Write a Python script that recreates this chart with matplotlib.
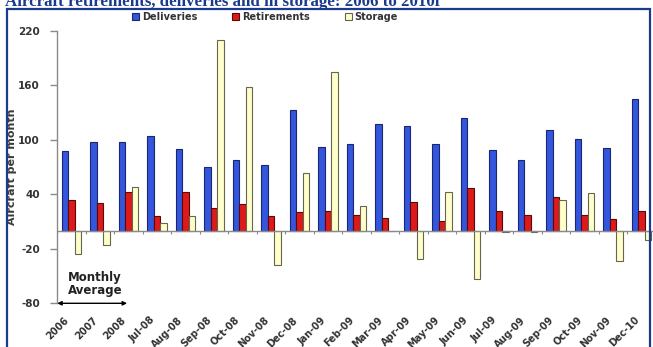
import matplotlib
matplotlib.use("Agg")
import matplotlib.pyplot as plt
import numpy as np
from matplotlib.patches import Rectangle, Patch
from matplotlib.transforms import ScaledTranslation

categories = ['2006', '2007', '2008', 'Jul-08', 'Aug-08', 'Sep-08', 'Oct-08',
              'Nov-08', 'Dec-08', 'Jan-09', 'Feb-09', 'Mar-09', 'Apr-09',
              'May-09', 'Jun-09', 'Jul-09', 'Aug-09', 'Sep-09', 'Oct-09',
              'Nov-09', 'Dec-10']
deliveries = [88, 98, 98, 104, 90, 70, 78, 72, 133, 92, 95, 117, 115, 95,
              124, 89, 78, 111, 101, 91, 145]
retirements = [34, 30, 43, 16, 43, 25, 29, 16, 20, 22, 17, 14, 31, 11,
               47, 22, 17, 37, 17, 13, 22]
storage = [-26, -16, 48, 8, 16, 210, 158, -38, 63, 174, 27, 0, -31, 42,
           -53, -2, -1, 34, 41, -33, -10]
yticks = [-80, -20, 40, 100, 160, 220]

W, H = 653, 347
fig = plt.figure(figsize=(W / 100, H / 100), dpi=100)
fig.patch.set_facecolor('white')

# plot area in pixel terms
left, right, top, bottom = 57.25, 655.75, 30.7, 303.3
ax = fig.add_axes([left / W, (H - bottom) / H, (right - left) / W, (bottom - top) / H])

x = np.arange(len(categories))
w = 0.228
blue, red, cream = '#3356dc', '#dc1a1a', '#ffffcc'
ax.bar(x - w, deliveries, w, color=blue, edgecolor='#1c2670', linewidth=0.8, zorder=2)
ax.bar(x, retirements, w, color=red, edgecolor='#5c0808', linewidth=0.8, zorder=2)
ax.bar(x + w, storage, w, color=cream, edgecolor='#66664d', linewidth=0.8, zorder=2)

ax.set_xlim(-0.5, len(categories) - 0.5)
ax.set_ylim(-80, 220)

# zero line with category separators
ax.axhline(0, color='#8a8a8a', linewidth=1, zorder=3)
ax.vlines(np.arange(len(categories) + 1) - 0.5, -3.5, 0, color='#8a8a8a',
          linewidth=0.8, zorder=3)

for s in ['top', 'right', 'bottom']:
    ax.spines[s].set_visible(False)
ax.spines['left'].set_color('#8a8a8a')
ax.spines['left'].set_linewidth(1)

ax.set_yticks(yticks)
ax.set_yticklabels([str(v) for v in yticks])
ax.tick_params(axis='y', length=5, width=1, color='#8a8a8a', pad=7.5,
               labelsize=7.5, labelcolor='#333333')
for lab in ax.get_yticklabels():
    lab.set_fontweight('bold')

ax.set_xticks(x)
ax.set_xticklabels(categories, rotation=45, ha='right', va='center',
                   rotation_mode='anchor', fontsize=7, fontweight='bold',
                   color='#333333')
ax.tick_params(axis='x', length=0, pad=11)
shift = ScaledTranslation(-4 / 100, 0, fig.dpi_scale_trans)
for lab in ax.get_xticklabels():
    lab.set_transform(lab.get_transform() + shift)

ax.set_ylabel('Aircraft per month', fontsize=8, fontweight='bold', color='#3a3a3a')
ax.yaxis.set_label_coords((17 - left) / (right - left), 0.5)

# monthly-average bracket under the first three categories
ax.annotate('', xy=(-0.5, -80), xytext=(1.95, -80), annotation_clip=False,
            arrowprops=dict(arrowstyle='<|-|>', color='black', lw=1,
                            mutation_scale=6, shrinkA=0, shrinkB=0))
ax.text(0.82, -59, 'Monthly\nAverage', ha='center', va='center',
        multialignment='center', fontsize=8.5, fontweight='bold',
        color='#222222', linespacing=1.0)

handles = [Patch(facecolor=blue, edgecolor='#1c2670', linewidth=0.8, label='Deliveries'),
           Patch(facecolor=red, edgecolor='#5c0808', linewidth=0.8, label='Retirements'),
           Patch(facecolor=cream, edgecolor='#66664d', linewidth=0.8, label='Storage')]
fig.legend(handles=handles, loc='center', bbox_to_anchor=(265 / W, 1 - 17 / H),
           ncol=3, frameon=False, handlelength=0.7, handleheight=0.7,
           handletextpad=0.3, columnspacing=3.6,
           prop={'weight': 'bold', 'size': 7})
for t in fig.legends[0].get_texts():
    t.set_color('#333333')

# outer frame and headline
fig.patches.append(Rectangle((7 / W, -0.05), (650 - 7) / W, 1.05 - 8.5 / H,
                             transform=fig.transFigure, fill=False,
                             edgecolor='#1a3a8c', linewidth=1.6))
fig.text(5 / W, 1 - 6 / H, 'Aircraft retirements, deliveries and in storage: 2006 to 2010f',
         family='Liberation Serif', fontweight='bold', color='#1a3a8c',
         fontsize=12.2, va='baseline', ha='left')

fig.savefig('out.png', dpi=100)
